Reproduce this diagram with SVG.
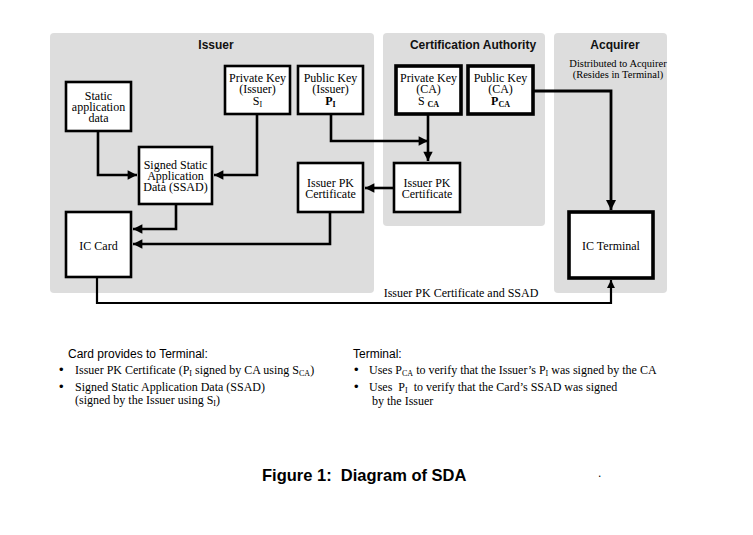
<svg xmlns="http://www.w3.org/2000/svg" width="753" height="535" viewBox="0 0 753 535">
<style>
.panel{fill:#dddddd;stroke:none}
.title{font-family:"Liberation Sans",Arial,sans-serif;font-size:12px;font-weight:bold;fill:#111;text-anchor:middle}
.box{fill:#fff;stroke:#000;stroke-width:2.6}
.tbox{fill:#fff;stroke:#000;stroke-width:3.6}
.nt{font-family:"Liberation Serif","Times New Roman",serif;font-size:12px;fill:#000;text-anchor:middle}
.sm{font-family:"Liberation Serif","Times New Roman",serif;font-size:10.5px;fill:#000;text-anchor:middle}
.ln{fill:none;stroke:#000;stroke-width:2.6;stroke-linejoin:miter}
.body{font-family:"Liberation Serif","Times New Roman",serif;font-size:12px;fill:#000}
.bul{font-family:"Liberation Sans",Arial,sans-serif;font-size:13px;fill:#000}
.head{font-family:"Liberation Sans",Arial,sans-serif;font-size:12px;fill:#000}
.fig{font-family:"Liberation Sans",Arial,sans-serif;font-size:16.5px;font-weight:bold;fill:#000;white-space:pre}
</style>
<defs>
<marker id="ah" viewBox="0 0 10 10" refX="10" refY="5" markerWidth="4" markerHeight="3.6" orient="auto" markerUnits="strokeWidth">
<path d="M0,0 L10,5 L0,10 z" fill="#000"/>
</marker>
</defs>

<g id="panels">
<rect class="panel" x="50" y="33" width="324" height="260" rx="4"/>
<rect class="panel" x="383" y="33" width="162" height="193" rx="4"/>
<rect class="panel" x="554" y="33" width="113" height="260" rx="4"/>
<text class="title" x="216" y="49">Issuer</text>
<text class="title" x="473" y="49">Certification Authority</text>
<text class="title" x="615" y="49">Acquirer</text>
<text class="sm" x="618" y="67">Distributed to Acquirer</text>
<text class="sm" x="618" y="78">(Resides in Terminal)</text>
</g>

<g id="connectors">
<polyline class="ln" points="98,131 98,175 137,175" marker-end="url(#ah)"/>
<polyline class="ln" points="257,114 257,175 214,175" marker-end="url(#ah)"/>
<polyline class="ln" points="176,204 176,229 133,229" marker-end="url(#ah)"/>
<polyline class="ln" points="330,212 330,244 133,244" marker-end="url(#ah)"/>
<polyline class="ln" points="331,115 331,141 428,141" marker-end="url(#ah)"/>
<polyline class="ln" points="428,114 428,161" marker-end="url(#ah)"/>
<polyline class="ln" points="394,188 365,188" marker-end="url(#ah)"/>
<polyline class="ln" points="533,91 611,91 611,210" marker-end="url(#ah)" style="stroke-width:2.8"/>
<polyline class="ln" points="97,277 97,303 611,303 611,280" marker-end="url(#ah)" style="stroke-width:2.2"/>
<text class="nt" x="461" y="297">Issuer PK Certificate and SSAD</text>
</g>

<g id="static-data">
<rect class="box" x="66" y="82" width="65" height="49"/>
<text class="nt" x="98.5" y="100">Static</text>
<text class="nt" x="98.5" y="111">application</text>
<text class="nt" x="98.5" y="122">data</text>
</g>

<g id="private-key-issuer">
<rect class="box" x="225" y="66" width="65" height="48"/>
<text class="nt" x="257.5" y="82">Private Key</text>
<text class="nt" x="257.5" y="93">(Issuer)</text>
<text class="nt" x="257.5" y="105">S<tspan font-size="8" dy="2">I</tspan></text>
</g>

<g id="public-key-issuer">
<rect class="box" x="298" y="66" width="65" height="48"/>
<text class="nt" x="330.5" y="82">Public Key</text>
<text class="nt" x="330.5" y="93">(Issuer)</text>
<text class="nt" x="330.5" y="105"><tspan font-weight="bold">P</tspan><tspan font-size="8" font-weight="bold" dy="2">I</tspan></text>
</g>

<g id="private-key-ca">
<rect class="tbox" x="396" y="66" width="65" height="48"/>
<text class="nt" x="428.5" y="82">Private Key</text>
<text class="nt" x="428.5" y="93">(CA)</text>
<text class="nt" x="428.5" y="105">S <tspan font-size="8" font-weight="bold" dy="2">CA</tspan></text>
</g>

<g id="public-key-ca">
<rect class="tbox" x="468" y="66" width="65" height="48"/>
<text class="nt" x="500.5" y="82">Public Key</text>
<text class="nt" x="500.5" y="93">(CA)</text>
<text class="nt" x="500.5" y="105"><tspan font-weight="bold">P</tspan><tspan font-size="8" font-weight="bold" dy="2">CA</tspan></text>
</g>

<g id="ssad">
<rect class="box" x="139" y="147" width="73" height="57"/>
<text class="nt" x="175.5" y="169">Signed Static</text>
<text class="nt" x="175.5" y="180">Application</text>
<text class="nt" x="175.5" y="191">Data (SSAD)</text>
</g>

<g id="issuer-pk-cert-issuer">
<rect class="box" x="298" y="163" width="65" height="49"/>
<text class="nt" x="330.5" y="187">Issuer PK</text>
<text class="nt" x="330.5" y="198">Certificate</text>
</g>

<g id="issuer-pk-cert-ca">
<rect class="box" x="394" y="163" width="66" height="49"/>
<text class="nt" x="427" y="187">Issuer PK</text>
<text class="nt" x="427" y="198">Certificate</text>
</g>

<g id="ic-card">
<rect class="box" x="66" y="212" width="65" height="65"/>
<text class="nt" x="98.5" y="250">IC Card</text>
</g>

<g id="ic-terminal">
<rect class="tbox" x="569" y="212" width="84" height="66"/>
<text class="nt" x="611" y="250">IC Terminal</text>
</g>

<g id="notes">
<text class="head" x="68" y="358">Card provides to Terminal:</text>
<text class="bul" x="59" y="374">•</text>
<text class="body" x="75" y="374">Issuer PK Certificate (P<tspan font-size="8" dy="2">I</tspan><tspan dy="-2"> signed by CA using S</tspan><tspan font-size="8" dy="2">CA</tspan><tspan dy="-2">)</tspan></text>
<text class="bul" x="59" y="391">•</text>
<text class="body" x="75" y="391">Signed Static Application Data (SSAD)</text>
<text class="body" x="75" y="404">(signed by the Issuer using S<tspan font-size="8" dy="2">I</tspan><tspan dy="-2">)</tspan></text>

<text class="head" x="353" y="358">Terminal:</text>
<text class="bul" x="354" y="374">•</text>
<text class="body" x="369" y="374">Uses P<tspan font-size="8" dy="2">CA</tspan><tspan dy="-2"> to verify that the Issuer’s P</tspan><tspan font-size="8" dy="2">I</tspan><tspan dy="-2">  was signed by the CA</tspan></text>
<text class="bul" x="354" y="391">•</text>
<text class="body" x="369" y="391" style="white-space:pre">Uses  P<tspan font-size="8" dy="2">I</tspan><tspan dy="-2">  to verify that the Card’s SSAD was signed</tspan></text>
<text class="body" x="372" y="405">by the Issuer</text>

<text class="fig" x="262" y="481">Figure 1:  Diagram of SDA</text>
<text class="head" x="598" y="477" font-size="10">.</text>
</g>
</svg>
